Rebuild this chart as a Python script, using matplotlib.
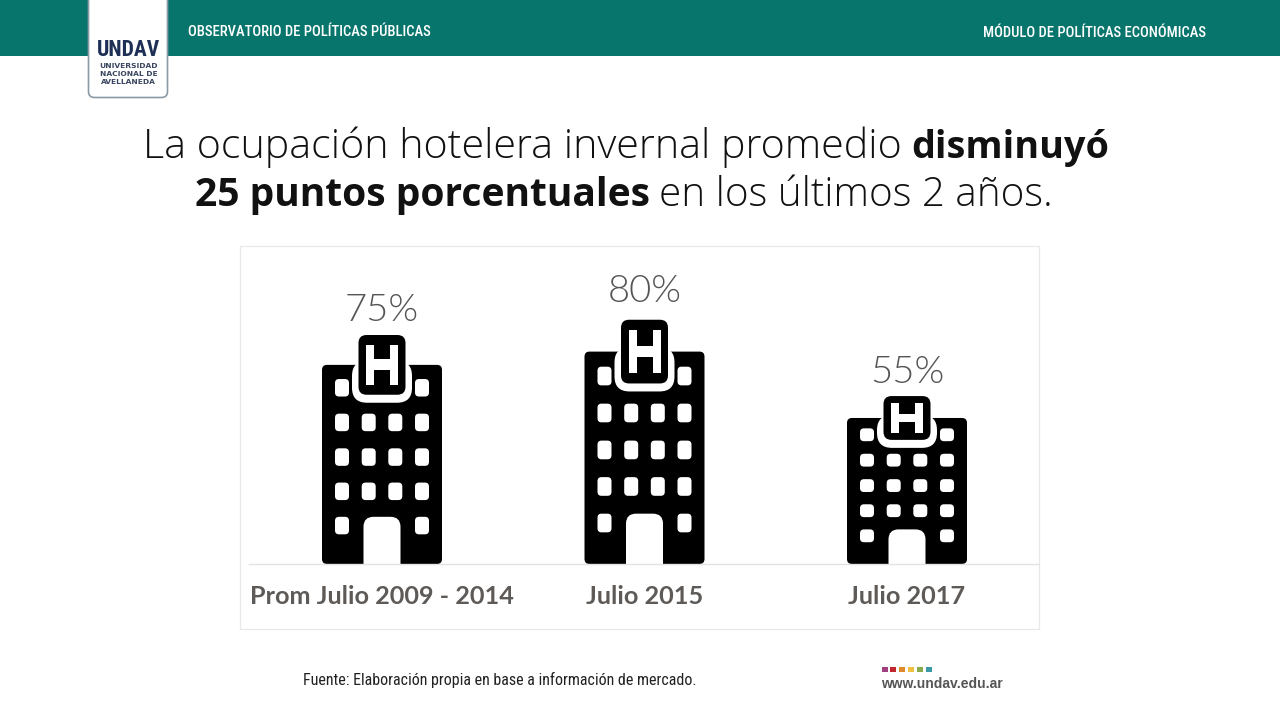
import matplotlib
matplotlib.use("Agg")
import matplotlib.pyplot as plt
from matplotlib.patches import FancyBboxPatch, Rectangle

categories = ["Prom Julio 2009 - 2014", "Julio 2015", "Julio 2017"]
occupancy = [75, 80, 55]
value_labels = ["75%", "80%", "55%"]

header_left = "OBSERVATORIO DE POLÍTICAS PÚBLICAS"
header_right = "MÓDULO DE POLÍTICAS ECONÓMICAS"
source_text = "Fuente: Elaboración propia en base a información de mercado."
site_text = "www.undav.edu.ar"
site_colors = ["#a0407f", "#c0272d", "#e08a2e", "#f0c040", "#8aaa50", "#3a9aa8"]

TEAL = "#08756d"
NAVY = "#1d2f55"
W, H = 1280, 719

# pixel sizes of the chart area
AX_LEFT, AX_RIGHT, AX_BOTTOM, AX_TOP = 249, 1039, 564, 256
PX_PER_CAT = 262.5
PX_PER_VAL = 2.655
FIRST_CENTER = 382
LABEL_GAPS = [4.9, 7.7, 4.1]

fig = plt.figure(figsize=(W / 100, H / 100), dpi=100, facecolor="white")

# page layer, in pixels from the top left
page = fig.add_axes([0, 0, 1, 1])
page.set_xlim(0, W)
page.set_ylim(H, 0)
page.axis("off")

page.add_patch(Rectangle((0, 0), W, 56, color=TEAL, lw=0))
page.add_patch(FancyBboxPatch((88.5, -10), 79, 107.5, boxstyle="round,pad=0,rounding_size=6",
                              fc="white", ec="#8b9ba6", lw=1.2))
page.text(128.5, 49.5, "UNDAV", ha="center", va="center", color=NAVY, fontsize=15.5,
          family="Roboto Condensed", weight="bold")
for y, line in zip([65.5, 73.5, 81.5], ["UNIVERSIDAD", "NACIONAL DE", "AVELLANEDA"]):
    page.text(128.5, y, line, ha="center", va="center", color="#3a4660", fontsize=5.4,
              family="DejaVu Sans", weight="bold")

page.text(188, 32, header_left, ha="left", va="center", color="white", fontsize=10.55,
          family="Roboto Condensed", weight=500)
page.text(1206, 33, header_right, ha="right", va="center", color="white", fontsize=10.5,
          family="Roboto Condensed", weight=500)


def fit_text(x0, x1, y, txt, weight):
    # size the text so that it spans x0 to x1
    renderer = fig.canvas.get_renderer()
    t = page.text(x0, y, txt, ha="left", va="baseline", color="#111111", fontsize=28,
                  family="Open Sans", weight=weight)
    t.set_fontsize(28 * (x1 - x0) / t.get_window_extent(renderer).width)


fit_text(143, 903, 158, "La ocupación hotelera invernal promedio", 300)
fit_text(911, 1108, 158, "disminuyó", 700)
fit_text(195, 650, 206, "25 puntos porcentuales", 700)
fit_text(659, 1053, 206, "en los últimos 2 años.", 300)

page.add_patch(Rectangle((240, 246), 798.5, 382.5, fc="none", ec="#e8e8e8", lw=0.9))

page.text(500, 680, source_text, ha="center", va="center", color="#222222", fontsize=11.5,
          family="Roboto Condensed")
for i, c in enumerate(site_colors):
    page.add_patch(Rectangle((881.5 + i * 8.9, 667), 6, 5, color=c, lw=0))
page.text(881, 683.5, site_text, ha="left", va="center", color="#555555", fontsize=10,
          family="Liberation Sans", weight="bold")

# chart layer: x is the category index, y the occupancy
ax = fig.add_axes([AX_LEFT / W, 1 - AX_BOTTOM / H, (AX_RIGHT - AX_LEFT) / W, (AX_BOTTOM - AX_TOP) / H])
ax.patch.set_alpha(0)
ax.set_xlim((AX_LEFT - FIRST_CENTER) / PX_PER_CAT, (AX_RIGHT - FIRST_CENTER) / PX_PER_CAT)
ax.set_ylim(0, (AX_BOTTOM - AX_TOP) / PX_PER_VAL)
ax.set_yticks([])
for side in ["top", "left", "right"]:
    ax.spines[side].set_visible(False)
ax.spines["bottom"].set_color("#e3e3e3")
ax.spines["bottom"].set_linewidth(1)
ax.spines["bottom"].set_zorder(10)
ax.set_xticks(range(len(categories)))
ax.set_xticklabels(categories, family="Lato", weight="bold", fontsize=18.2, color="#5e5a57")
ax.tick_params(axis="x", length=0, pad=15)

ASPECT = PX_PER_CAT / PX_PER_VAL


def rbox(x, y, w, h, radius, color, z):
    # w and radius are in pixels, y and h in occupancy units
    ax.add_patch(FancyBboxPatch((x + w[0] / PX_PER_CAT, y), (w[1] - w[0]) / PX_PER_CAT, h,
                                boxstyle=f"round,pad=0,rounding_size={radius / PX_PER_CAT}",
                                mutation_aspect=ASPECT, fc=color, ec="none", zorder=z))


def rect(x, y, w, h, color, z):
    ax.add_patch(Rectangle((x + w[0] / PX_PER_CAT, y), (w[1] - w[0]) / PX_PER_CAT, h,
                           fc=color, ec="none", zorder=z))


win_rows = [0.193, 0.365, 0.537, 0.711, 0.885]
win_cols = [-40, -13.3, 13.3, 40]

for i, v in enumerate(occupancy):
    rbox(i, 0, (-60, 60), v, 5, "black", 2)
    # windows, the first row only has the outer ones
    for r, row in enumerate(win_rows):
        for col in win_cols:
            if (r == 0 or r == 4) and abs(col) < 20:
                continue
            rbox(i, v * (row - 0.044), (col - 7, col + 7), v * 0.088, 4, "white", 3)
    # door
    rbox(i, -v * 0.1, (-18.5, 18.5), v * 0.337, 10, "white", 3)
    # sign with its white ring
    box_bottom = v * 0.85
    box_h = v * 0.30
    ring = 8 / PX_PER_VAL
    rbox(i, box_bottom - ring, (-30, 30), v * 0.17 + ring, 15, "white", 4)
    rbox(i, box_bottom, (-23.5, 23.5), box_h, 8, "black", 5)
    rect(i, box_bottom + box_h * 0.16, (-16, -8), box_h * 0.68, "white", 6)
    rect(i, box_bottom + box_h * 0.16, (8, 16), box_h * 0.68, "white", 6)
    rect(i, box_bottom + box_h * 0.41, (-8, 8), box_h * 0.18, "white", 6)
    ax.annotate(value_labels[i], (i, box_bottom + box_h), xytext=(0, LABEL_GAPS[i]), textcoords="offset points",
                ha="center", va="bottom", fontsize=27.5, family="Lato", weight=300, color="#555555",
                annotation_clip=False, zorder=7)

fig.savefig("out.png", dpi=100, facecolor="white")
